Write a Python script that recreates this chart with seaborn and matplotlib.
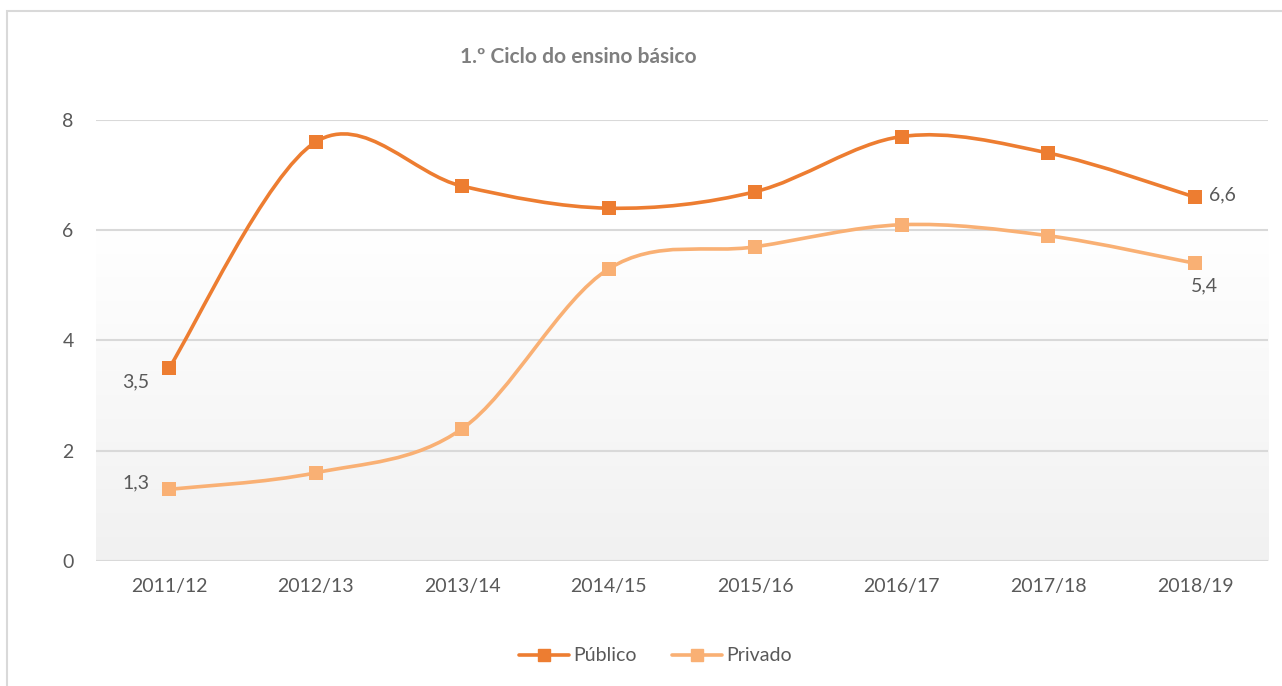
import numpy as np
import pandas as pd
import matplotlib
matplotlib.use("Agg")
import matplotlib.pyplot as plt
import seaborn as sns
from matplotlib.path import Path
from matplotlib.patches import PathPatch, Rectangle
from matplotlib.lines import Line2D

# data
anos = ['2011/12', '2012/13', '2013/14', '2014/15', '2015/16', '2016/17', '2017/18', '2018/19']
publico = [3.5, 7.6, 6.8, 6.4, 6.7, 7.7, 7.4, 6.6]
privado = [1.3, 1.6, 2.4, 5.3, 5.7, 6.1, 5.9, 5.4]

cor_publico = '#ED7D31'
cor_privado = '#F9B074'
cinza_txt = '#595959'

df = pd.DataFrame({'ano': anos, 'Público': publico, 'Privado': privado})
df['x'] = np.arange(len(anos))

sns.set_theme(style="white")
plt.rcParams['font.family'] = ['Lato', 'DejaVu Sans']

fig = plt.figure(figsize=(12.82, 6.86), dpi=100)
ax = fig.add_axes([0.0747, 0.1822, 0.9146, 0.6429])

# chart border (cut off at right and bottom like the reference)
fig.patches.append(Rectangle((7 / 1282, -0.2), 2, 1.2 - 11 / 686, transform=fig.transFigure,
                             fill=False, edgecolor='#d9d9d9', lw=1.5, zorder=-5))


def smooth_path(xs, ys):
    # Excel-like smoothed line: Catmull-Rom as cubic Bezier
    xs = np.asarray(xs, float)
    ys = np.asarray(ys, float)
    pts = np.column_stack([xs, ys])
    verts = [pts[0]]
    codes = [Path.MOVETO]
    n = len(pts)
    for i in range(n - 1):
        p0 = pts[i - 1] if i > 0 else pts[i]
        p1 = pts[i]
        p2 = pts[i + 1]
        p3 = pts[i + 2] if i + 2 < n else pts[i + 1]
        c1 = p1 + (p2 - p0) / 6
        c2 = p2 - (p3 - p1) / 6
        verts += [c1, c2, p2]
        codes += [Path.CURVE4] * 3
    return Path(verts, codes)


ax.set_xlim(-0.5, len(anos) - 0.5)
ax.set_ylim(0, 8)

# gradient background
grad = np.linspace(0, 1, 1024).reshape(-1, 1)
cmap = matplotlib.colors.LinearSegmentedColormap.from_list(
    'bg', [(0, '#f1f1f1'), (0.75, '#ffffff'), (1, '#ffffff')])
ax.imshow(grad, extent=[-0.5, len(anos) - 0.5, 0, 8], origin='lower', aspect='auto',
          cmap=cmap, interpolation='bilinear', zorder=0)

for col, cor in [('Público', cor_publico), ('Privado', cor_privado)]:
    ax.add_patch(PathPatch(smooth_path(df['x'], df[col]), fill=False, edgecolor=cor,
                           lw=2.6, capstyle='round', zorder=3))
    sns.scatterplot(data=df, x='x', y=col, ax=ax, marker='s', s=110, color=cor,
                    edgecolor=cor, linewidth=0, zorder=4, legend=False)

# data labels
lbl = dict(fontsize=14, color=cinza_txt)
ax.annotate(f"{publico[0]:.1f}".replace('.', ','), (0, publico[0]), xytext=(-14, -10),
            textcoords='offset points', ha='right', va='center', **lbl)
ax.annotate(f"{privado[0]:.1f}".replace('.', ','), (0, privado[0]), xytext=(-14, 5),
            textcoords='offset points', ha='right', va='center', **lbl)
ax.annotate(f"{publico[-1]:.1f}".replace('.', ','), (7, publico[-1]), xytext=(10, 2),
            textcoords='offset points', ha='left', va='center', **lbl)
ax.annotate(f"{privado[-1]:.1f}".replace('.', ','), (7, privado[-1]), xytext=(-3, -16),
            textcoords='offset points', ha='left', va='center', **lbl)

ax.set_xticks(df['x'])
ax.set_xticklabels(anos)
ax.set_yticks([0, 2, 4, 6, 8])
ax.tick_params(axis='both', length=0, labelsize=14, labelcolor=cinza_txt)
ax.tick_params(axis='x', pad=12)
ax.tick_params(axis='y', pad=16)
ax.set_xlabel('')
ax.set_ylabel('')
ax.grid(axis='y', color='#d9d9d9', lw=1.5, zorder=1)
ax.set_axisbelow(False)
for s in ax.spines.values():
    s.set_visible(False)
for gl in ax.get_ygridlines():
    gl.set_zorder(1)

fig.text(0.451, 0.917, '1.º Ciclo do ensino básico', ha='center', va='center',
         fontsize=15, fontweight='bold', color='#7f7f7f')

handles = [Line2D([0], [0], color=cor_publico, lw=2.6, marker='s', markersize=9),
           Line2D([0], [0], color=cor_privado, lw=2.6, marker='s', markersize=9)]
fig.legend(handles, ['Público', 'Privado'], loc='center', bbox_to_anchor=(0.511, 0.044),
           ncol=2, frameon=False, fontsize=14, handlelength=2.6, columnspacing=1.8,
           handletextpad=0.2, labelcolor=cinza_txt)

fig.savefig('out.png', dpi=100)
